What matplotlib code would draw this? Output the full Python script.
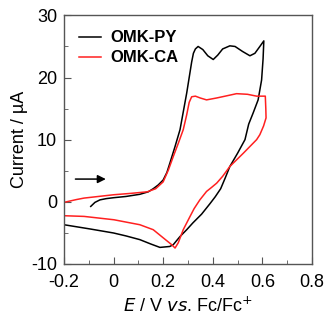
import numpy as np
import matplotlib.pyplot as plt
from matplotlib.ticker import MultipleLocator

plt.rcParams['font.family'] = ['Liberation Sans', 'DejaVu Sans']

# OMK-PY (black), digitised along the scan direction
py_x = [-0.092, -0.075, -0.055, -0.03, 0.0, 0.05, 0.106, 0.14, 0.16, 0.18, 0.2, 0.215,
        0.227, 0.248, 0.268, 0.295, 0.315, 0.322, 0.33, 0.341, 0.36, 0.38, 0.402, 0.42,
        0.44, 0.469, 0.49, 0.52, 0.55, 0.57, 0.59, 0.606,
        0.603, 0.597, 0.583, 0.563, 0.545, 0.53, 0.5, 0.469, 0.45, 0.432, 0.41, 0.389,
        0.355, 0.32, 0.295, 0.268, 0.241, 0.227, 0.187, 0.15, 0.106, 0.05, 0.0, -0.092, -0.2]
py_y = [-0.75, -0.1, 0.3, 0.5, 0.65, 0.85, 1.2, 1.6, 2.1, 2.7, 3.5, 4.7,
        6.2, 8.9, 11.6, 17.5, 22.5, 23.9, 24.6, 25.0, 24.5, 23.5, 22.9, 23.6,
        24.6, 25.1, 25.0, 24.2, 23.5, 23.9, 25.0, 25.9,
        23.0, 19.6, 16.4, 14.3, 12.5, 10.0, 7.8, 5.68, 3.8, 2.1, 0.8, -0.3,
        -2.0, -3.4, -4.5, -5.6, -6.9, -7.2, -7.35, -6.8, -6.1, -5.5, -5.03, -4.4, -3.7]

# OMK-CA (red)
ca_x = [-0.2, -0.15, -0.119, -0.05, 0.0016, 0.07, 0.136, 0.17, 0.2, 0.221, 0.241, 0.261,
        0.281, 0.295, 0.305, 0.315, 0.33, 0.35, 0.375, 0.415, 0.45, 0.496, 0.54, 0.577, 0.612,
        0.614, 0.615, 0.605, 0.59, 0.577, 0.55, 0.523, 0.469, 0.44, 0.416, 0.395, 0.375, 0.348,
        0.325, 0.308, 0.281, 0.261, 0.248, 0.234, 0.2, 0.16, 0.106, 0.0016, -0.119, -0.2]
ca_y = [-0.1, 0.35, 0.59, 0.9, 1.13, 1.35, 1.6, 2.1, 3.2, 5.1, 7.3, 9.4,
        11.6, 14.0, 16.0, 16.9, 17.0, 16.7, 16.4, 16.7, 17.0, 17.4, 17.3, 17.0, 17.0,
        15.0, 13.5, 12.2, 10.8, 10.0, 8.9, 7.8, 5.68, 4.1, 3.0, 2.3, 1.66, 0.3,
        -1.1, -2.4, -4.5, -6.6, -7.45, -6.9, -5.8, -4.5, -3.7, -2.9, -2.36, -2.25]

fig = plt.figure(figsize=(3.28, 3.21), dpi=100)
ax = fig.add_axes([0.195, 0.178, 0.756, 0.774])

ax.plot(py_x, py_y, color='black', lw=1.1, label='OMK-PY')
ax.plot(ca_x, ca_y, color='#ff2020', lw=1.1, label='OMK-CA')

ax.annotate('', xy=(-0.02, 3.65), xytext=(-0.165, 3.65),
            arrowprops=dict(arrowstyle='-|>', color='black', lw=1.1, mutation_scale=12))

ax.set_xlim(-0.2, 0.8)
ax.set_ylim(-10, 30)
ax.xaxis.set_minor_locator(MultipleLocator(0.1))
ax.yaxis.set_minor_locator(MultipleLocator(5))
ax.set_xticks([-0.2, 0, 0.2, 0.4, 0.6, 0.8])
ax.set_xticklabels(['-0.2', '0', '0.2', '0.4', '0.6', '0.8'], fontsize=13)
ax.set_yticks([-10, 0, 10, 20, 30])
ax.set_yticklabels(['-10', '0', '10', '20', '30'], fontsize=13)
ax.tick_params(which='both', direction='in', color='#555555')
ax.tick_params(axis='x', pad=7)
ax.tick_params(axis='y', pad=5)
ax.tick_params(which='major', length=5)
ax.tick_params(which='minor', length=3)
for s in ax.spines.values():
    s.set_color('#555555')
    s.set_linewidth(1.0)

ax.set_xlabel(r'$\it{E}$ / V $\it{vs}$. Fc/Fc$^{+}$', fontsize=13, labelpad=4)
ax.set_ylabel('Current / µA', fontsize=13, labelpad=2)

leg = ax.legend(loc='upper left', frameon=False, prop={'weight': 'bold', 'size': 12},
                handlelength=1.35, handletextpad=0.55, borderaxespad=0.5, labelspacing=0.3)

plt.savefig('out.png', dpi=100)
